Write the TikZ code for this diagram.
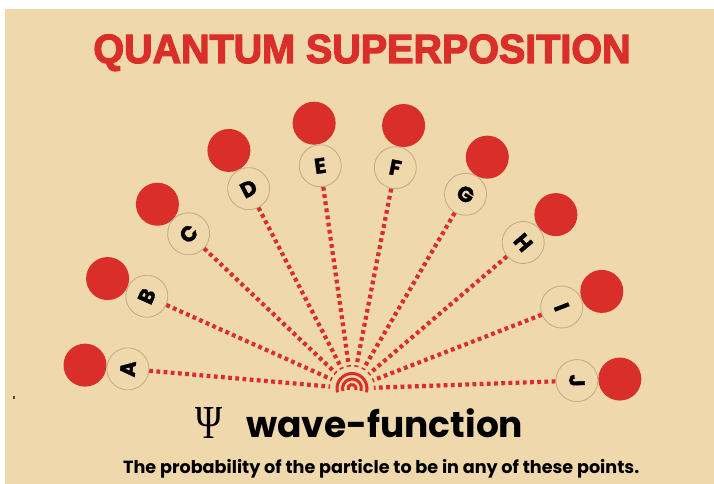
\documentclass[tikz,border=0pt]{standalone}
\usepackage{fontspec}
\usepackage{graphicx}
\setmainfont{Liberation Sans}
\newfontfamily\popfont{Poppins}
\newfontfamily\popheavy[FakeBold=1.5]{Poppins}
\newfontfamily\titlefont[FakeBold=3]{Liberation Sans}
\newfontfamily\psifont{Liberation Serif}
\usetikzlibrary{calc}
\definecolor{bg}{HTML}{EFD9AC}
\definecolor{qred}{HTML}{D92E2A}
\definecolor{ring}{HTML}{C4AE8A}
\tikzset{
  letterbox/.style={circle, fill=bg, draw=ring, line width=0.9pt, minimum size=42pt, inner sep=0pt, font=\popheavy\bfseries\fontsize{21.5}{21.5}\selectfont},
  reddot/.style={circle, fill=qred, minimum size=43pt, inner sep=0pt},
  ray/.style={draw=qred, line width=4.2pt, dash pattern=on 3.8pt off 3.4pt, shorten >=22pt},
  arcline/.style={draw=qred, line width=3pt}
}
\begin{document}
\begin{tikzpicture}[x=1pt,y=-1pt]
\useasboundingbox (0,0) rectangle (714,484);
\fill[white] (0,0) rectangle (714,484);
\fill[bg] (5,9) rectangle (714,484);
\fill[gray!60!black] (13,396) rectangle (15,399);
\coordinate (C) at (352,388.5);
% title
\node[text=qred, inner sep=0pt, anchor=base] (title) at (362,63) {\resizebox{537pt}{28.5pt}{\titlefont\bfseries QUANTUM SUPERPOSITION}};
% letters and dots
\foreach \L [count=\i from 0] in {A,B,C,D,E,F,G,H,I,J} {
  \pgfmathsetmacro\ang{175-\i*19.22}
  \pgfmathsetmacro\rot{\ang-90}
  \node[reddot] (R\L) at ($(C)+(\ang:268pt)$) {};
  \node[letterbox, rotate=\rot] (L\L) at ($(C)+(\ang:225pt)$) {\L};
  \draw[ray] (L\L) -- (C);
}
% center arcs
\draw[arcline] ($(C)+(195:15pt)$) arc[start angle=195, end angle=-15, radius=15pt];
\draw[arcline] ($(C)+(195:9.5pt)$) arc[start angle=195, end angle=-15, radius=9.5pt];
\draw[arcline] ($(C)+(200:4pt)$) arc[start angle=200, end angle=-20, radius=4pt];
% bottom texts
\node[inner sep=0pt, anchor=base] (psi) at (208.5,438) {\resizebox{27pt}{31pt}{\psifont Ψ}};
\node[inner sep=0pt, anchor=base west] (wf) at (246,437) {\resizebox{277pt}{!}{\popfont\bfseries wave-function}};
\node[inner sep=0pt, anchor=base west] (desc) at (123,473) {\resizebox{516pt}{!}{\popfont\bfseries The probability of the particle to be in any of these points.}};
\end{tikzpicture}
\end{document}
